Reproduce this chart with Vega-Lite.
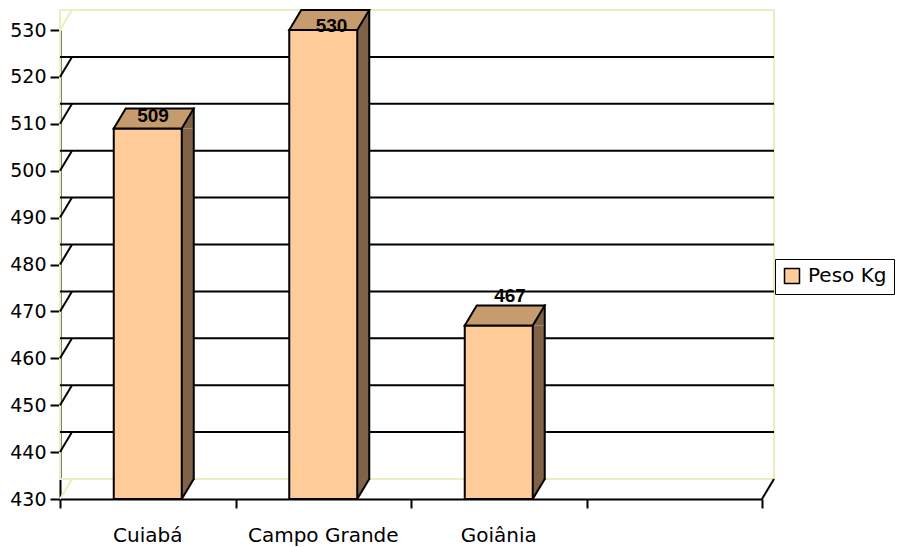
{
  "$schema": "https://vega.github.io/schema/vega-lite/v6.json",
  "width": 702,
  "height": 469,
  "autosize": {"type": "none"},
  "padding": {"left": 60, "top": 30, "right": 136, "bottom": 48},
  "background": "white",
  "config": {"view": {"stroke": null}, "font": "DejaVu Sans"},
  "datasets": {
    "bars": [
      {"city": "Cuiabá", "peso": 509},
      {"city": "Campo Grande", "peso": 530},
      {"city": "Goiânia", "peso": 467}
    ],
    "grid": [{"v": 440}, {"v": 450}, {"v": 460}, {"v": 470}, {"v": 480}, {"v": 490}, {"v": 500}, {"v": 510}, {"v": 520}],
    "edge": [{"v": 430}, {"v": 530}],
    "frame": [{"part": "wall"}]
  },
  "layer": [
    {
      "layer": [
        {
          "data": {"name": "frame"},
          "mark": {"type": "rect", "fill": "transparent", "stroke": "#EDEDC0", "strokeWidth": 2, "xOffset": 12, "x2Offset": 12, "yOffset": -20, "y2Offset": -20},
          "encoding": {
            "y": {"datum": 530, "type": "quantitative", "scale": {"domain": [430, 530], "nice": false, "zero": false}, "axis": null},
            "y2": {"datum": 430}
          }
        },
        {
          "data": {"name": "grid"},
          "mark": {"type": "rule", "stroke": "black", "strokeWidth": 2, "xOffset": 12, "x2Offset": 12, "yOffset": -20},
          "encoding": {
            "y": {"field": "v", "type": "quantitative", "scale": {"domain": [430, 530], "nice": false, "zero": false}, "axis": null}
          }
        },
        {
          "data": {"name": "grid"},
          "mark": {"type": "rule", "stroke": "black", "strokeWidth": 2, "x2Offset": 12, "y2Offset": -20},
          "encoding": {
            "x": {"datum": 0, "type": "quantitative", "scale": {"domain": [0, 4], "nice": false, "zero": false},
              "axis": {"orient": "bottom", "values": [0, 1, 2, 3, 4], "labels": false, "ticks": true, "tickSize": 9, "tickWidth": 2, "tickColor": "black", "domain": true, "domainColor": "black", "domainWidth": 2, "grid": false, "title": null}},
            "x2": {"datum": 0},
            "y": {"field": "v", "type": "quantitative", "scale": {"domain": [430, 530], "nice": false, "zero": false}, "axis": null},
            "y2": {"field": "v"}
          }
        },
        {
          "data": {"name": "edge"},
          "mark": {"type": "rule", "stroke": "#EDEDC0", "strokeWidth": 2, "x2Offset": 12, "y2Offset": -20},
          "encoding": {
            "x": {"datum": 0, "type": "quantitative", "scale": {"domain": [0, 4], "nice": false, "zero": false},
              "axis": {"orient": "bottom", "values": [0, 1, 2, 3, 4], "labels": false, "ticks": true, "tickSize": 9, "tickWidth": 2, "tickColor": "black", "domain": true, "domainColor": "black", "domainWidth": 2, "grid": false, "title": null}},
            "x2": {"datum": 0},
            "y": {"field": "v", "type": "quantitative", "scale": {"domain": [430, 530], "nice": false, "zero": false}, "axis": null},
            "y2": {"field": "v"}
          }
        },
        {
          "data": {"name": "frame"},
          "mark": {"type": "rule", "stroke": "black", "strokeWidth": 2, "x2Offset": 12, "y2Offset": -20},
          "encoding": {
            "x": {"datum": 4, "type": "quantitative", "scale": {"domain": [0, 4], "nice": false, "zero": false},
              "axis": {"orient": "bottom", "values": [0, 1, 2, 3, 4], "labels": false, "ticks": true, "tickSize": 9, "tickWidth": 2, "tickColor": "black", "domain": true, "domainColor": "black", "domainWidth": 2, "grid": false, "title": null}},
            "x2": {"datum": 4},
            "y": {"datum": 430, "type": "quantitative", "scale": {"domain": [430, 530], "nice": false, "zero": false}, "axis": null},
            "y2": {"datum": 430}
          }
        }
      ]
    },
    {
      "data": {"name": "bars"},
      "encoding": {
        "x": {"field": "city", "type": "nominal", "sort": null,
          "scale": {"domain": ["Cuiabá", "Campo Grande", "Goiânia", ""], "paddingInner": 0, "paddingOuter": 0},
          "axis": {"orient": "bottom", "ticks": false, "tickSize": 0, "domain": false, "grid": false, "labelAngle": 0, "labelFont": "DejaVu Sans", "labelFontSize": 20, "labelColor": "black", "labelPadding": 42, "labelBaseline": "alphabetic", "labelOverlap": false, "title": null}},
        "y": {"field": "peso", "type": "quantitative",
          "scale": {"domain": [430, 530], "nice": false, "zero": false},
          "axis": {"orient": "left", "values": [430, 440, 450, 460, 470, 480, 490, 500, 510, 520, 530], "grid": false, "domain": true, "domainColor": "black", "domainWidth": 2, "ticks": true, "tickColor": "black", "tickWidth": 2, "tickSize": 10, "labelPadding": 4, "labelFont": "DejaVu Sans", "labelFontSize": 19, "labelColor": "black", "title": null}}
      },
      "layer": [
        {
          "mark": {"type": "bar", "width": 12, "xOffset": 40, "y2Offset": -20, "fill": "#7F6247", "strokeWidth": 0},
          "encoding": {"y2": {"datum": 430}}
        },
        {
          "mark": {"type": "point", "shape": "M34,0L46,-20L46,0Z", "size": 4, "filled": true, "fill": "#7F6247", "strokeWidth": 0, "opacity": 1}
        },
        {
          "mark": {"type": "point", "shape": "M34,0L34,-20L46,-20Z", "size": 4, "filled": true, "fill": "#7F6247", "strokeWidth": 0, "opacity": 1},
          "encoding": {"y": {"datum": 430, "type": "quantitative"}}
        },
        {
          "mark": {"type": "bar", "width": 68, "stroke": "black", "strokeWidth": 2},
          "encoding": {
            "y2": {"datum": 430},
            "fill": {"datum": "Peso Kg", "type": "nominal", "scale": {"range": ["#FFCC99"]},
              "legend": {"orient": "none", "legendX": 715, "legendY": 229, "title": null, "strokeColor": "black", "fillColor": "white", "padding": 7, "symbolType": "square", "symbolSize": 225, "symbolStrokeColor": "black", "symbolStrokeWidth": 1.5, "labelFont": "DejaVu Sans", "labelFontSize": 20, "labelColor": "black", "labelOffset": 6}}
          }
        },
        {
          "mark": {"type": "point", "shape": "M-34,0L34,0L46,-20L-22,-20Z", "size": 4, "filled": true, "fill": "#C69B6D", "stroke": "black", "strokeWidth": 2, "strokeJoin": "miter", "opacity": 1}
        },
        {
          "mark": {"type": "rule", "stroke": "black", "strokeWidth": 2, "xOffset": 46, "yOffset": -20, "y2Offset": -20, "strokeCap": "square"},
          "encoding": {"y2": {"datum": 430}}
        },
        {
          "mark": {"type": "point", "shape": "M34,0L46,-20", "size": 4, "filled": false, "fill": "transparent", "stroke": "black", "strokeWidth": 2, "opacity": 1},
          "encoding": {"y": {"datum": 430, "type": "quantitative"}}
        }
      ]
    },
    {
      "data": {"name": "bars"},
      "mark": {"type": "text", "font": "Liberation Sans", "fontWeight": "bold", "fontSize": 19, "align": "center", "baseline": "alphabetic", "color": "black"},
      "encoding": {
        "x": {"field": "city", "type": "nominal", "sort": null,
          "scale": {"domain": ["Cuiabá", "Campo Grande", "Goiânia", ""], "paddingInner": 0, "paddingOuter": 0, "range": [3.75, 717.75]}, "axis": null},
        "y": {"field": "peso", "type": "quantitative", "scale": {"domain": [430, 530], "nice": false, "zero": false, "range": [429.9, 2.4]}, "axis": null},
        "text": {"field": "peso", "type": "quantitative"}
      }
    }
  ],
  "resolve": {"scale": {"x": "independent", "y": "independent"}}
}
